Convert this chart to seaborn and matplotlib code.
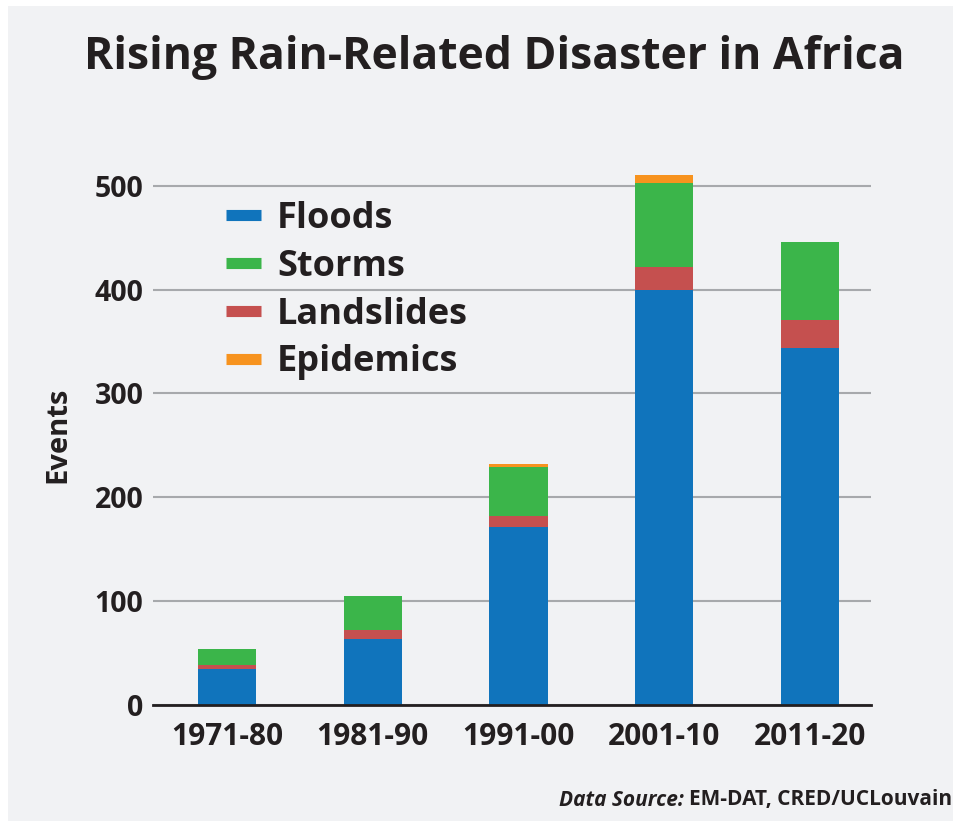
import matplotlib
matplotlib.use("Agg")
import matplotlib.pyplot as plt
from matplotlib.lines import Line2D
from matplotlib.patches import Rectangle
import pandas as pd
import seaborn as sns

# values (events per decade)
decades = ["1971-80", "1981-90", "1991-00", "2001-10", "2011-20"]
floods = [35, 64, 171, 400, 344]
landslides = [4, 8, 11, 22, 27]
storms = [15, 33, 47, 81, 75]
epidemics = [0, 0, 3, 7, 0]
yticks = [0, 100, 200, 300, 400, 500]

colors = {
    "Floods": "#1074bc",
    "Storms": "#3bb54a",
    "Landslides": "#c5504f",
    "Epidemics": "#f7931e",
}
BG = "#f1f2f4"
TXT = "#231f20"

sns.set_theme(style="white")
plt.rcParams["font.family"] = ["Open Sans", "DejaVu Sans"]
plt.rcParams["font.weight"] = "bold"

df = pd.DataFrame({
    "decade": decades,
    "Floods": floods,
    "Landslides": landslides,
    "Storms": storms,
    "Epidemics": epidemics,
})
# stacking order bottom -> top
stack = ["Floods", "Landslides", "Storms", "Epidemics"]
cum = df[stack].cumsum(axis=1)

W, H = 954, 827
fig = plt.figure(figsize=(W / 100, H / 100), dpi=100, facecolor="white")
# grey panel with a thin white margin, like the reference
fig.patches.append(Rectangle((8 / W, 6 / H), 1 - 8 / W, 1 - 12 / H,
                             transform=fig.transFigure, facecolor=BG,
                             edgecolor="none", zorder=-10))
ax = fig.add_axes([153 / W, 122 / H, 718 / W, 540 / H])
ax.patch.set_alpha(0)

# draw cumulative bars from the top layer down so each overlays the one above
for name in reversed(stack):
    sns.barplot(x=df["decade"], y=cum[name], color=colors[name], width=0.4,
                saturation=1, linewidth=0, ax=ax, zorder=3)

ax.set_xlim(-0.508, 4.418)
ax.set_ylim(0, 520)
ax.set_yticks(yticks)
ax.yaxis.grid(True, color="#a7a9ac", linewidth=1.5, zorder=0)
ax.set_axisbelow(True)
for s in ["top", "right", "left"]:
    ax.spines[s].set_visible(False)
ax.spines["bottom"].set_color(TXT)
ax.spines["bottom"].set_linewidth(2)
ax.spines["bottom"].set_zorder(4)
ax.tick_params(axis="x", length=0, labelsize=21.5, labelcolor=TXT, pad=12)
ax.tick_params(axis="y", length=0, labelsize=20.5, labelcolor=TXT, pad=7)
for lab in ax.get_xticklabels() + ax.get_yticklabels():
    lab.set_fontweight("bold")
ax.set_xlabel("")
ax.set_ylabel("Events", fontsize=21, fontweight="bold", color=TXT, labelpad=16)

handles = [Line2D([0], [0], color=colors[k], linewidth=8, solid_capstyle="butt")
           for k in ["Floods", "Storms", "Landslides", "Epidemics"]]
leg = ax.legend(handles, ["Floods", "Storms", "Landslides", "Epidemics"],
                loc="upper left", bbox_to_anchor=(0.057, 0.994), frameon=False,
                handlelength=0.95, handletextpad=0.45, labelspacing=0.33,
                prop={"size": 26, "weight": "bold"})
for t in leg.get_texts():
    t.set_color(TXT)

fig.text(494 / W, 1 - 57 / H, "Rising Rain-Related Disaster in Africa",
         ha="center", va="center", fontsize=32, fontweight="bold", color=TXT)

src = fig.text(952 / W, 1 - 800 / H, "EM-DAT, CRED/UCLouvain", ha="right",
               va="center", fontsize=15, fontweight="bold", color=TXT)
fig.canvas.draw()
bb = src.get_window_extent()
fig.text((bb.x0 - 5) / W, 1 - 800 / H, "Data Source:", ha="right", va="center",
         fontsize=15, fontweight="bold", style="italic", color=TXT)

fig.savefig("out.png", dpi=100, facecolor="white")
